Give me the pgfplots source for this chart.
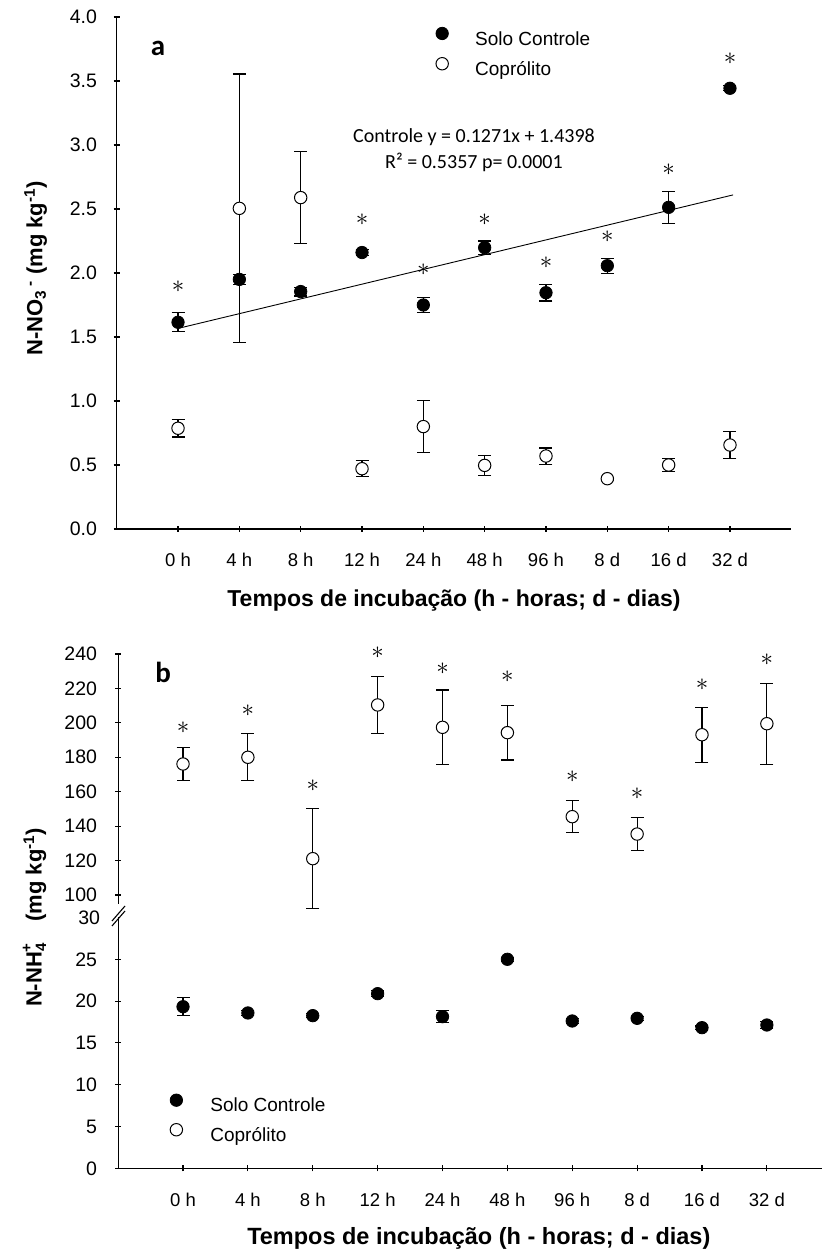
\documentclass[border=0pt]{standalone}
\usepackage{fontspec}
\setmainfont{Liberation Sans}
\newfontfamily\carlito{Carlito}
\usepackage{pgfplots}
\usepackage{pgfplotstable}
\pgfplotsset{compat=1.18}

\pgfplotstableread{
x solo solo_e cop cop_e
0 1.615 0.075 0.787 0.068
1 1.950 0.040 2.505 1.050
2 1.855 0.035 2.589 0.362
3 2.160 0.025 0.471 0.062
4 1.750 0.060 0.800 0.202
5 2.198 0.052 0.497 0.079
6 1.846 0.065 0.570 0.063
7 2.057 0.058 0.393 0.012
8 2.513 0.126 0.500 0.052
9 3.443 0.020 0.656 0.105
}\dataA

\pgfplotstableread{
x y
0 1.893
3 2.420
4 2.023
5 2.420
6 2.083
7 2.284
8 2.805
9 3.677
}\starsA

\pgfplotstableread{
x solo solo_e
0 19.33 1.10
1 18.58 0.25
2 18.26 0.25
3 20.89 0.35
4 18.14 0.70
5 25.00 0.25
6 17.62 0.30
7 17.94 0.25
8 16.82 0.20
9 17.14 0.40
}\dataBlow

\pgfplotstableread{
x cop cop_e
0 176.1 9.4
1 180.0 13.6
2 121.1 29.2
3 210.4 16.5
4 197.4 21.7
5 194.3 15.9
6 145.5 9.3
7 135.4 9.6
8 193.1 16.0
9 199.5 23.5
}\dataBup

\pgfplotstableread{
x y
0 197.4
1 207.1
2 163.5
3 240.8
4 231.7
5 226.8
6 168.7
7 159.1
8 222.0
9 236.5
}\starsB

\pgfplotsset{
  common/.style={
    scale only axis, clip=false, xmin=-1,
    tick align=outside, major tick length=6pt,
    every tick/.style={line width=1.1pt, black},
    xticklabel style={font=\fontsize{18.5}{20}\selectfont},
    yticklabel style={font=\fontsize{19.5}{21}\selectfont},
    /pgf/number format/assume math mode=true,
    yticklabel style={anchor=east, inner sep=0pt},
    xticklabel style={anchor=base, inner sep=0pt, yshift=-35pt},
    legend cell align=left,
    legend image code/.code={\draw[##1] plot coordinates {(0pt,6.8pt)};},
  },
  nolinearrows/.style={
    every outer x axis line/.style={},
    every outer y axis line/.style={},
    every inner x axis line/.style={},
    every inner y axis line/.style={},
    axis line style={line width=1.1pt, black, -},
    x axis line style={-},
    y axis line style={-},
  },
  solo/.style={only marks, mark=*, mark size=6.2pt,
    mark options={draw=black, fill=black, line width=0.8pt},
    error bars/.cd, y dir=both, y explicit,
    error bar style={line width=1.1pt, black},
    error mark options={rotate=90, mark size=6.5pt, line width=1.1pt, black}},
  cop/.style={only marks, mark=*, mark size=6.2pt,
    mark options={draw=black, fill=white, line width=1pt},
    error bars/.cd, y dir=both, y explicit,
    error bar style={line width=1.1pt, black},
    error mark options={rotate=90, mark size=6.5pt, line width=1.1pt, black}},
  star/.style={only marks, mark=text, text mark={$\ast$}, text mark as node=true,
    text mark style={font=\fontsize{25}{25}\selectfont, inner sep=0pt, anchor=center}},
}

\begin{document}
\begin{tikzpicture}
\path[use as bounding box] (0pt,0pt) rectangle (822pt,1254pt);

% ---------------- panel a ----------------
\begin{axis}[common,
  at={(116.7pt,725pt)}, anchor=south west,
  width=674.6pt, height=512pt,
  axis x line=bottom, axis y line=left, nolinearrows,
  yticklabel style={xshift=-16.5pt},
  xmax=10, ymin=0, ymax=4,
  xtick={0,1,2,3,4,5,6,7,8,9},
  xticklabels={0 h,4 h,8 h,12 h,24 h,48 h,96 h,8 d,16 d,32 d},
  ytick={0,0.5,1,1.5,2,2.5,3,3.5,4},
  yticklabel style={/pgf/number format/.cd, fixed, fixed zerofill, precision=1},
  xlabel={Tempos de incubação (h - horas; d - dias)},
  every axis x label/.style={at={(axis description cs:0.5,0)}, anchor=base, yshift=-77.7pt,
    font=\bfseries\fontsize{23}{26}\selectfont},
  ylabel={N-NO\textsubscript{3}\,\textsuperscript{-} (mg kg\textsuperscript{-1})},
  every axis y label/.style={at={(axis description cs:-0.1103,0.5092)}, rotate=90, anchor=base,
    font=\bfseries\fontsize{22}{24}\selectfont},
  legend style={draw=none, fill=none, inner sep=0pt, outer sep=0pt,
    at={(rel axis cs:0.4733,0.9799)}, anchor=north west,
    font=\fontsize{19}{21}\selectfont, row sep=8.5pt,
    nodes={inner sep=0pt, text height=13.5pt, text depth=4pt},
    /tikz/every odd column/.append style={column sep=26.8pt}},
]
\addplot[solo] table[x=x, y=solo, y error=solo_e] {\dataA};
\addplot[cop] table[x=x, y=cop, y error=cop_e] {\dataA};
\addplot[forget plot, black, line width=0.9pt] coordinates {(0,1.567) (9.05,2.61)};
\addplot[star, forget plot] table[x=x, y=y] {\starsA};
\legend{Solo Controle, Coprólito}
\node[anchor=base, font=\carlito\fontsize{20}{22}\selectfont] at (axis cs:4.826,3.018) {Controle y = 0.1271x + 1.4398};
\node[anchor=base, font=\carlito\fontsize{20}{22}\selectfont] at (axis cs:4.826,2.817) {R² = 0.5357 p= 0.0001};
\node[anchor=base, font=\carlito\bfseries\fontsize{29}{30}\selectfont] at (axis cs:-0.326,3.703) {a};
\end{axis}

% ---------------- panel b, lower part ----------------
\begin{axis}[common,
  at={(118.15pt,85.7pt)}, anchor=south west,
  width=703.85pt, height=250.8pt,
  axis x line=bottom, axis y line=left, nolinearrows,
  yticklabel style={xshift=-18pt},
  xmax=9.85, ymin=0, ymax=30,
  xtick={0,1,2,3,4,5,6,7,8,9},
  xticklabels={0 h,4 h,8 h,12 h,24 h,48 h,96 h,8 d,16 d,32 d},
  ytick={0,5,10,15,20,25},
  extra y ticks={30},
  extra y tick style={major tick length=0pt},
  xlabel={Tempos de incubação (h - horas; d - dias)},
  every axis x label/.style={at={(axis description cs:0.5124,0)}, anchor=base, yshift=-76pt,
    font=\bfseries\fontsize{23.5}{26}\selectfont},
  ylabel={N-NH\raisebox{-4.5pt}{\fontsize{15}{15}\selectfont 4}\llap{\raisebox{10pt}{\fontsize{15}{15}\selectfont +}}\quad(mg kg\textsuperscript{-1})},
  every axis y label/.style={at={(axis description cs:-0.1086,1.0)}, rotate=90, anchor=base,
    font=\bfseries\fontsize{22}{24}\selectfont},
  legend style={draw=none, fill=none, inner sep=0pt, outer sep=0pt,
    at={(rel axis cs:0.0739,0.2963)}, anchor=north west,
    font=\fontsize{19}{21}\selectfont, row sep=7.8pt,
    nodes={inner sep=0pt, text height=13.5pt, text depth=4pt},
    /tikz/every odd column/.append style={column sep=27.8pt}},
]
\addplot[solo] table[x=x, y=solo, y error=solo_e] {\dataBlow};
\addlegendentry{Solo Controle}
\addlegendimage{only marks, mark=*, mark size=6.2pt, mark options={draw=black, fill=white, line width=1pt}}
\addlegendentry{Coprólito}
\draw[line width=1.1pt] ([xshift=-6.15pt, yshift=-3.5pt]rel axis cs:0,1) -- ++(13pt,15pt);
\draw[line width=1.1pt] ([xshift=-6.15pt, yshift=-8.5pt]rel axis cs:0,1) -- ++(13pt,15pt);
\end{axis}

% ---------------- panel b, upper part ----------------
\begin{axis}[common,
  at={(118.15pt,350.4pt)}, anchor=south west,
  width=703.85pt, height=249.6pt,
  axis x line=none, axis y line=left, nolinearrows,
  yticklabel style={xshift=-18pt},
  xmax=9.85, ymin=95, ymax=240,
  ytick={100,120,140,160,180,200,220,240},
]
\addplot[cop] table[x=x, y=cop, y error=cop_e] {\dataBup};
\addplot[star] table[x=x, y=y] {\starsB};
\node[anchor=base, font=\carlito\bfseries\fontsize{29}{30}\selectfont] at (axis cs:-0.308,223.3) {b};
\end{axis}
\end{tikzpicture}
\end{document}
